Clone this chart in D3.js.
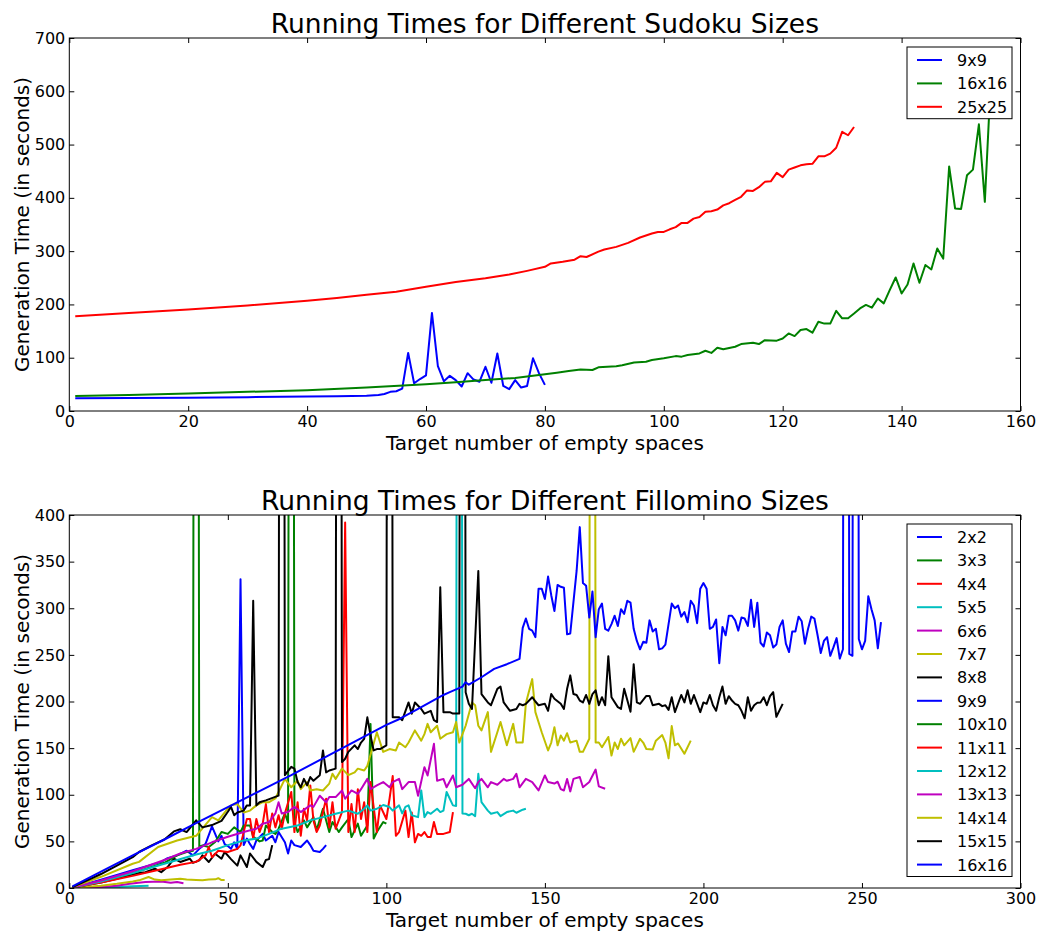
<!DOCTYPE html>
<html>
<head>
<meta charset="utf-8">
<script src="https://cdn.jsdelivr.net/npm/d3@7"></script>
<style>
body { margin: 0; background: #fff; }
svg text { font-family: "DejaVu Sans", sans-serif; fill: #000; }
</style>
</head>
<body>
<svg id="chart" width="1037" height="935"></svg>
<script>
// matplotlib classic colour cycle
const colorCycle = ["#0000ff", "#008000", "#ff0000", "#00bfbf", "#bf00bf", "#bfbf00", "#000000"];

// ---- Sudoku data: [target empty spaces, seconds] ----
const sudokuNames = ["9x9", "16x16", "25x25"];
const sudokuXTicks = [0, 20, 40, 60, 80, 100, 120, 140, 160];
const sudokuYTicks = [0, 100, 200, 300, 400, 500, 600, 700];

const sudoku9x9 = [[1,24],[10,24.5],[20,25],[30,26],[40,27],[45,27.5],[50,28.5],[52,30],[53,32],[54,36],[55,37],[56,42],[57,109],[58,52],[59,60],[60,67],[61,184],[62,84],[63,56],[64,66],[65,58],[66,46],[67,71],[68,59],[69,55],[70,83],[71,53],[72,108],[73,47],[74,41],[75,58],[76,44],[77,47],[78,99],[79,71],[80,49]];
const sudoku16x16 = [[1,28],[10,30],[20,33],[30,36],[40,39],[50,44],[60,50],[65,54],[70,58],[75,62],[80,69],[82,72],[84,75],[86,78],[88,77],[89,82],[92,84],[93,86],[95,91],[97,92.5],[98,95.6],[100,98.8],[102,103],[103,102],[104,105],[106,108],[107,113],[108,109],[109,118.8],[110,116],[112,120.6],[113,125.6],[115,128],[116,125.6],[117,133],[119,132],[120,136],[121,145.6],[122,140.6],[123,152],[124,153.8],[125,147],[126,167.5],[127,164],[128,164],[129,188],[130,174],[131,174],[132,183],[133,192.5],[134,199],[135,194],[136,211],[137,202],[138,227],[139,250.6],[140,220.6],[141,237.5],[142,277],[143,240.6],[144,274],[145,265.6],[146,305],[147,286],[148,459],[149,380],[150,379],[151,442.5],[152,453],[153,538],[154,392.5],[155,620]];
const sudoku25x25 = [[1,178],[10,184],[20,190.6],[30,198],[40,207],[45,212],[50,218],[55,224],[60,233],[65,242],[70,249],[74,256],[77,263],[80,270.6],[81,277],[83,280],[85,284],[86,290.6],[87,289],[89,299],[90,303],[92,308],[94,315.6],[96,325.6],[98,333],[99,336],[100,336],[101,341],[102,345],[103,353],[104,353],[105,361],[106,364],[107,374],[108,375],[109,378],[110,386],[111,390],[112,396],[113,402],[114,414],[115,413],[116,420],[117,430],[118,431],[119,447],[120,439],[121,453],[122,457],[123,461],[124,463],[125,464],[126,478],[127,478],[128,483],[129,494],[130,524],[131,517.5],[132,533]];

// ---- Fillomino data ----
const fillominoNames = ["2x2","3x3","4x4","5x5","6x6","7x7","8x8","9x9","10x10","11x11","12x12","13x13","14x14","15x15","16x16"];
const fillominoXTicks = [0, 50, 100, 150, 200, 250, 300];
const fillominoYTicks = [0, 50, 100, 150, 200, 250, 300, 350, 400];

const f2x2 = [[1,0],[2,0.05],[3,0.1],[4,0.2]];
const f3x3 = [[1,0],[3,0.1],[5,0.2],[7,0.3],[9,0.5]];
const f4x4 = [[1,0],[4,0.2],[8,0.5],[12,0.8],[16,1.2]];
const f5x5 = [[1,0],[5,0.3],[10,0.7],[15,1.2],[20,1.8],[25,2.3]];
const f6x6 = [[1,0],[5,0.5],[10,1.2],[15,2.3],[19,4.6],[24,6.4],[29,7],[32,5.7],[34,6.5],[36,5.2]];
const f7x7 = [[1,0],[5,1],[10,2.5],[15,4.5],[20,7],[22,8.2],[25,11.8],[27,9],[29,8.2],[32,9],[35,10],[37,9],[40,8.5],[42,8.2],[44,9],[46,9.3],[47,10.5],[48,8.5],[49,8.6]];
const f8x8 = [[1,0.5],[5,3],[10,6],[15,10],[19,13.6],[22,16],[24,17],[27,20.7],[29,17],[31,22.5],[33,31.4],[35,27.9],[38,31.4],[39,27],[41,29.6],[42,35],[44,27.9],[46,36.8],[48,31.4],[49,38.6],[51,31],[53,24],[54,35],[56,22.5],[57,37],[59,28],[61,22.5],[62,30],[63,31],[64,46]];
const f9x9 = [[1,1],[5,4],[10,9],[15,14],[20,19],[25,24],[29,28],[31,32],[34,35],[37,40],[39,35],[41,42],[43,47.5],[45,66],[46,58],[47,50],[48,56],[49,47],[50,45],[51,42],[52,49],[53,42],[54,331],[55,46],[56,53],[57,47],[58,42],[59,51],[61,58],[62,51],[64,56],[65,49],[66,60],[68,49],[69,37],[70,51],[71,46],[73,44],[75,51],[76,46],[77,40],[79,38.6],[80,42],[81,46]];
const f10x10 = [[1,0.5],[10,7],[20,16],[30,27],[34,35],[37,38.6],[39,40],[40,2500],[41,44],[42,45.7],[44,44],[46,49.3],[48,60],[50,58],[52,65],[54,60],[55,67],[57,67],[58,55],[60,50],[61,51],[62,67],[64,60],[65,58],[66,63.6],[68,80],[69,70],[70,2500],[71,70.7],[72,60],[74,72.5],[75,65],[77,76],[78,62],[80,85],[82,60],[83,70.7],[85,60],[86,65],[88,74],[89,54.6],[91,69],[92,56],[94,67],[95,176],[96,53],[97,60],[99,70.7],[100,69]];
const f11x11 = [[1,0.5],[10,6],[20,13],[30,21],[35,25],[40,28],[43,35],[44,44],[45,33],[47,40],[50,38.6],[53,42],[54,45.7],[56,74],[57,74],[58,53],[59,74],[60,60],[61,69],[62,90],[63,60],[64,80],[65,65],[66,78],[67,63.6],[68,80],[70,103],[71,60],[72,92],[73,56],[74,85],[75,72.5],[76,110],[77,72.5],[78,60],[79,67],[81,95.7],[82,65],[83,92],[84,63.6],[86,81.4],[87,392],[88,60],[89,90],[90,60],[91,106],[92,74],[93,92],[94,60],[95,113.6],[97,60],[98,88.6],[100,74],[101,95.7],[102,120],[103,56],[104,60],[106,83],[107,54.6],[108,81],[109,49],[110,58],[111,56],[112,60],[113,54.6],[114,54.6],[115,70.7],[116,58],[118,58],[120,60],[121,81.4]];
const f12x12 = [[1,0.5],[10,7],[20,16],[30,26],[40,36],[45,40],[50,46],[55,51],[59,53],[63,58],[67,63.6],[72,67],[76,72.5],[80,76],[84,79.6],[88,83],[91,79.6],[93,85],[94,88.6],[95,83],[97,85],[99,89],[101,86.8],[102,83],[104,88.6],[105,80],[106,87],[107,88.6],[108,78],[110,76],[111,104.6],[112,76],[113,81.4],[114,79.6],[116,85],[117,81.4],[118,83],[119,103],[121,88.6],[122,88],[123,2500],[124,80],[125,79.6],[126,78],[127,79.6],[128,77],[129,122.5],[130,92],[132,83],[133,79.6],[135,81.4],[136,77],[138,81.4],[140,83],[141,80.7],[143,84],[144,85]];
const f13x13 = [[1,0.5],[10,8],[20,18],[30,30],[35,37],[40,42],[45,49],[50,55],[55,60],[59,63.6],[61,69],[63,70.7],[65,80],[66,92],[67,80],[69,81.4],[71,87],[73,81.4],[76,88.6],[77,87],[79,99],[81,92],[82,97.5],[84,97.5],[86,104.6],[87,95.7],[89,104.6],[91,101],[92,106],[94,117],[95,106],[97,110],[99,113.6],[101,108],[102,113.6],[104,117],[105,106],[107,113.6],[109,113.6],[110,99],[112,129.6],[113,120.7],[115,154.6],[116,115],[118,117],[119,108],[121,120.7],[122,108],[124,110.7],[126,117],[128,107],[129,113.6],[130,117],[132,108],[133,113.6],[135,110.7],[137,117],[138,115],[140,117],[141,122.5],[142,108],[144,117],[146,113.6],[148,104.6],[150,120.7],[151,113.6],[153,112],[154,114],[155,106],[156,104.6],[157,117],[158,103.6],[159,117],[161,119],[162,108],[164,113.6],[166,127],[167,109],[169,106.4]];
const f14x14 = [[1,1],[10,12],[20,26],[22,28],[28,44],[34,51],[40,56],[45,76],[47,72.5],[50,85],[51,88.6],[53,90],[55,81],[57,83],[59,88.6],[61,92],[63,92],[65,96],[68,117],[70,108],[72,115],[73,106],[75,113.6],[76,104.6],[78,106],[80,104.6],[82,112],[83,122.5],[84,117],[86,128],[88,121],[90,124],[91,128],[93,126],[94,131],[97,167],[99,146],[101,149],[103,147.5],[104,156],[106,151],[107,156],[109,169],[111,158],[112,165],[113,176],[114,167],[116,174],[117,160],[119,165],[121,167],[122,178],[123,156],[124,165],[125,174],[127,199],[128,196],[129,174],[130,169],[132,188.6],[133,146],[135,167],[136,178],[138,153],[140,176],[141,156],[143,156],[144,198],[146,224],[147,188.6],[149,167],[151,147.5],[152,156],[153,172.5],[154,153],[155,163.6],[156,158],[157,166],[158,156],[160,158],[161,146],[162,146],[164,160],[165,2500],[166,156],[167,156],[168,151],[170,162],[171,142],[172,156],[173,149],[174,160],[175,153],[177,160.7],[178,146],[179,153],[180,160],[181,156],[182,149],[184,148.6],[185,158],[187,164],[188,156],[189,139],[190,173.6],[191,153],[192,155],[194,144],[196,158]];
const f15x15 = [[1,1],[10,15],[20,33],[22,38.6],[26,45.7],[30,52],[33,60.7],[35,63],[37,60],[40,72.5],[42,65],[45,67.5],[48,72],[50,81.8],[51,87],[52,78],[53,81],[55,83],[56,88.6],[57,88.6],[58,308],[59,88.6],[60,92],[62,94],[66,99],[67,2500],[68,121],[70,130],[71,128],[72,113.6],[73,108],[74,117],[75,110],[76,119],[77,115],[79,121],[80,147.5],[81,124],[82,126],[84,128],[85,2500],[86,135],[87,138.6],[88,146],[90,153],[91,149],[92,156],[93,160],[94,183],[95,163.6],[96,147.5],[97,149],[98,149],[100,153],[101,2500],[102,183],[104,183],[105,180],[107,199],[108,187],[109,199],[111,192],[112,187],[114,190],[115,180],[116,178],[117,322.5],[118,188.6],[120,188.6],[121,187],[123,187],[124,2500],[125,210],[126,197.5],[127,192],[129,340],[130,208],[132,199],[133,196],[135,213.6],[136,216],[137,199],[139,190],[141,192],[142,197.5],[143,196],[144,197.5],[146,204.6],[147,200],[148,196],[150,197.5],[151,190],[152,208],[153,203],[155,197.5],[156,192],[157,213.6],[158,228],[159,208],[160,207],[161,201],[162,199],[163,207],[164,197.5],[165,208],[166,212],[167,196],[168,204.6],[169,196],[170,248.6],[171,204.6],[173,194],[174,192],[175,213.6],[177,189],[178,240],[179,199],[180,197.5],[182,206],[183,206],[184,196],[186,197.5],[187,195],[188,196],[189,191],[190,204.6],[191,188.6],[193,207],[194,199],[195,212],[196,197.5],[197,207],[199,188.6],[200,199],[201,197.5],[202,207],[203,196],[204,190],[205,204.6],[206,216],[207,197.5],[208,205.7],[209,201],[210,197.5],[211,196],[212,190],[213,182],[214,204.6],[215,190],[216,196],[217,198.6],[218,199],[219,204.6],[220,196],[221,205.7],[222,210],[223,183.6],[225,197.5]];
const f16x16 = [[1,1.7],[10,17.5],[20,35],[30,52],[40,69.5],[50,86.8],[60,104],[70,121],[80,139],[90,157],[100,175],[104,181],[110,192],[118,207],[120,210],[124,216],[125,220.7],[126,218],[130,226],[134,235],[138,240],[142,245.7],[143,279],[144,289],[145,278],[146,276],[147,269],[148,321],[149,321],[150,310],[151,334],[152,314],[153,297],[154,325],[155,323],[156,322],[157,272],[158,273],[160,340],[161,387],[162,327],[163,324],[164,290],[165,318],[166,269],[167,299],[168,305],[169,278],[170,276],[171,283],[172,292],[173,281],[174,299],[175,294],[176,308],[177,306],[178,278],[179,265],[180,256],[181,264],[182,263],[183,287],[184,275],[185,278],[186,256],[187,257],[188,261],[190,305],[191,300],[192,303],[193,291],[194,296],[195,285],[196,308],[197,303],[198,284],[199,321],[200,327],[201,321],[202,278],[203,280],[204,288],[205,241],[206,280],[207,271],[208,292],[209,292],[210,287],[211,276],[212,290],[213,289],[214,281],[215,309],[216,280],[217,306],[218,263],[219,259],[220,274],[221,271],[222,258],[223,261],[224,280],[225,287],[226,262],[227,253],[228,275],[229,275],[230,291],[231,286],[232,262],[233,278],[234,291],[235,289],[236,271],[237,252],[238,265],[239,269],[240,249],[241,258],[242,268],[243,246],[244,256],[245,2500],[246,251],[247,249],[248,2500],[249,267],[250,256],[251,265],[252,313],[253,299],[254,287],[255,257],[256,285]];

const sudokuSeries = [sudoku9x9, sudoku16x16, sudoku25x25];
const fillominoSeries = [f2x2, f3x3, f4x4, f5x5, f6x6, f7x7, f8x8, f9x9, f10x10, f11x11, f12x12, f13x13, f14x14, f15x15, f16x16];

const svg = d3.select("#chart");
const left = 69.3, right = 1020.5;

function drawPanel(p) {
    const x = d3.scaleLinear().domain([0, p.xMax]).range([left, right]);
    const y = d3.scaleLinear().domain([0, p.yMax]).range([p.bottom, p.top]);
    const g = svg.append("g");

    g.append("clipPath").attr("id", p.id)
        .append("rect")
        .attr("x", left).attr("y", p.top)
        .attr("width", right - left).attr("height", p.bottom - p.top);

    const line = d3.line().x(d => x(d[0])).y(d => y(d[1]));

    g.append("g")
        .attr("clip-path", `url(#${p.id})`)
        .selectAll("path")
        .data(p.series)
        .enter().append("path")
        .attr("d", line)
        .attr("fill", "none")
        .attr("stroke", (d, i) => colorCycle[i % colorCycle.length])
        .attr("stroke-width", 2)
        .attr("stroke-linejoin", "round");

    // ticks point inward, labels only bottom and left
    const styleAxis = sel => {
        sel.select(".domain").remove();
        sel.selectAll("text").attr("font-size", 16).attr("font-family", "DejaVu Sans");
        sel.selectAll("line").attr("stroke", "#000");
    };
    g.append("g").attr("transform", `translate(0,${p.bottom})`)
        .call(d3.axisBottom(x).tickValues(p.xTicks).tickSizeInner(-5).tickSizeOuter(0).tickPadding(5))
        .call(styleAxis);
    g.append("g").attr("transform", `translate(0,${p.top})`)
        .call(d3.axisTop(x).tickValues(p.xTicks).tickSizeInner(-5).tickSizeOuter(0).tickFormat(""))
        .call(styleAxis);
    g.append("g").attr("transform", `translate(${left},0)`)
        .call(d3.axisLeft(y).tickValues(p.yTicks).tickSizeInner(-5).tickSizeOuter(0).tickPadding(4))
        .call(styleAxis);
    g.append("g").attr("transform", `translate(${right},0)`)
        .call(d3.axisRight(y).tickValues(p.yTicks).tickSizeInner(-5).tickSizeOuter(0).tickFormat(""))
        .call(styleAxis);

    g.append("rect")
        .attr("x", left).attr("y", p.top)
        .attr("width", right - left).attr("height", p.bottom - p.top)
        .attr("fill", "none").attr("stroke", "#000").attr("stroke-width", 1);

    g.append("text")
        .attr("x", (left + right) / 2).attr("y", p.top - 5)
        .attr("text-anchor", "middle").attr("font-size", 26.5)
        .text(p.title);
    g.append("text")
        .attr("x", (left + right) / 2).attr("y", p.bottom + 39)
        .attr("text-anchor", "middle").attr("font-size", 20)
        .text("Target number of empty spaces");
    g.append("text")
        .attr("transform", `translate(29,${(p.top + p.bottom) / 2}) rotate(-90)`)
        .attr("text-anchor", "middle").attr("font-size", 20)
        .text("Generation Time (in seconds)");

    // legend
    const lg = g.append("g");
    const rowH = 23.4;
    lg.append("rect")
        .attr("x", 907).attr("y", p.legendTop)
        .attr("width", 105).attr("height", p.names.length * rowH + 1.5)
        .attr("fill", "#fff").attr("stroke", "#000").attr("stroke-width", 1);
    const rows = lg.selectAll("g.row")
        .data(p.names)
        .enter().append("g")
        .attr("transform", (d, i) => `translate(0,${p.legendTop + 13 + i * rowH})`);
    rows.append("line")
        .attr("x1", 917).attr("x2", 942)
        .attr("stroke", (d, i) => colorCycle[i % colorCycle.length])
        .attr("stroke-width", 2);
    rows.append("text")
        .attr("x", 957).attr("y", 6)
        .attr("font-size", 16)
        .text(d => d);
}

drawPanel({
    id: "clipTop", top: 38, bottom: 411, xMax: 160, yMax: 700,
    xTicks: sudokuXTicks, yTicks: sudokuYTicks,
    series: sudokuSeries, names: sudokuNames,
    title: "Running Times for Different Sudoku Sizes", legendTop: 47
});
drawPanel({
    id: "clipBottom", top: 515, bottom: 888, xMax: 300, yMax: 400,
    xTicks: fillominoXTicks, yTicks: fillominoYTicks,
    series: fillominoSeries, names: fillominoNames,
    title: "Running Times for Different Fillomino Sizes", legendTop: 524
});
</script>
</body>
</html>
